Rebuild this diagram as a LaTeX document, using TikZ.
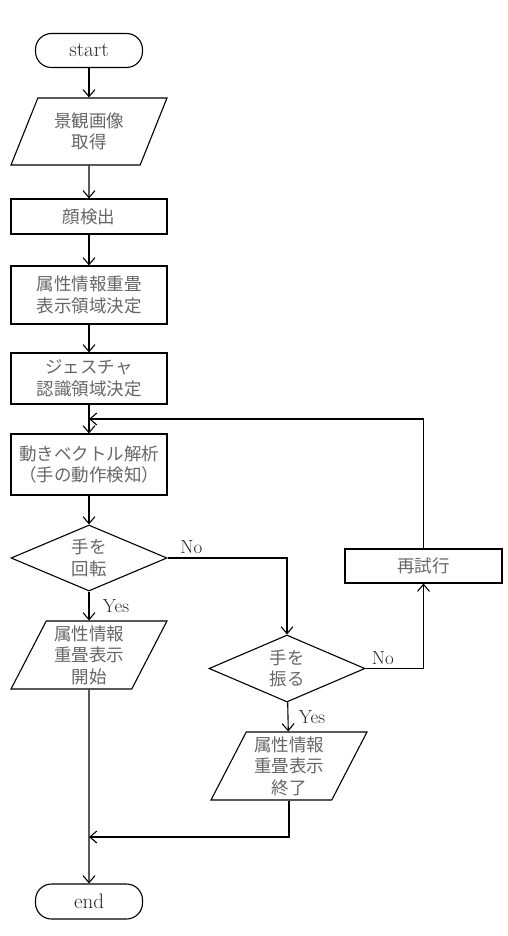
\documentclass[tikz,border=0pt]{standalone}
\usepackage{fontspec}
\newfontfamily\jp{Noto Sans CJK JP}
\usetikzlibrary{shapes.geometric,arrows.meta}

\begin{document}
\begin{tikzpicture}[x=1pt, y=-1pt, line width=1.1pt,
  >={Straight Barb[length=7pt,width=12pt]},
  every node/.style={font=\fontsize{19}{21.5}\selectfont, align=center, text=black!85},
  jp/.style={font=\jp\fontsize{17.5}{21.5}\selectfont, text=black!60},
  term/.style={draw, rectangle, rounded corners=16pt, minimum width=107pt, minimum height=34pt,
    inner sep=0pt, font=\fontsize{21}{24}\selectfont},
  proc/.style={draw, rectangle, jp, minimum width=156pt, inner sep=0pt},
  io/.style={draw, trapezium, jp, trapezium left angle=64, trapezium right angle=116,
    trapezium stretches=true, minimum width=156pt, minimum height=68pt, inner sep=0pt},
  cond/.style={draw, diamond, jp, shape aspect=2.36, minimum width=156pt, minimum height=66pt, inner sep=0pt}]

  \useasboundingbox (0,0) rectangle (508,936);

  \newcommand\C{89};

  % main column
  \node[term] (start) at (\C, 50.5) {start};
  \node[io, minimum height=67pt] (get) at (\C, 131.5) {景観画像\\取得};
  \node[proc, minimum height=35pt] (face) at (\C, 216.5) {顔検出};
  \node[proc, minimum height=58pt] (area) at (\C, 295) {属性情報重畳\\表示領域決定};
  \node[proc, minimum height=51pt] (gest) at (\C, 378.5) {ジェスチャ\\認識領域決定};
  \node[proc, minimum height=61pt] (motion) at (\C, 464.5) {動きベクトル解析\\（手の動作検知）};
  \node[cond] (rot) at (\C, 558) {手を\\回転};
  \node[io] (open) at (\C, 655) {属性情報\\重畳表示\\開始};
  \node[term, minimum height=35pt] (end) at (\C, 901.5) {end};

  % right branch
  \node[cond, minimum height=67pt] (wave) at (287, 668.5) {手を\\振る};
  \node[proc, minimum width=157pt, minimum height=34pt] (retry) at (423.5, 566) {再試行};
  \node[io] (close) at (289, 766) {属性情報\\重畳表示\\終了};

  \coordinate (loop) at (\C, 419);
  \coordinate (join) at (\C, 837);

  \draw[->] (start) -- (get); % start->get
  \draw[->] (get) -- (face); % get->face
  \draw[->] (face) -- (area); % face->area
  \draw[->] (area) -- (gest); % area->gest
  \draw[->] (gest) -- (motion); % gest->motion
  \draw[->] (motion) -- (rot); % motion->rot

  \draw[->] (rot) -- node[right, xshift=10pt]{Yes} (open); % rot->open
  \draw[->] (rot.east) -| node[pos=0.1, above]{No} (wave.north); % rot->wave
  \draw[->] (wave) -- node[right, xshift=7pt]{Yes} (close); % wave->close
  \draw[->] (wave.east) -| node[pos=0.15, above]{No} (retry.south); % wave->retry
  \draw[->] (retry.north) |- (loop); % retry->motion

  \draw[->] (open) -- (end); % open->end
  \draw[->] (close.south) |- (join); % close->end

\end{tikzpicture}
\end{document}
